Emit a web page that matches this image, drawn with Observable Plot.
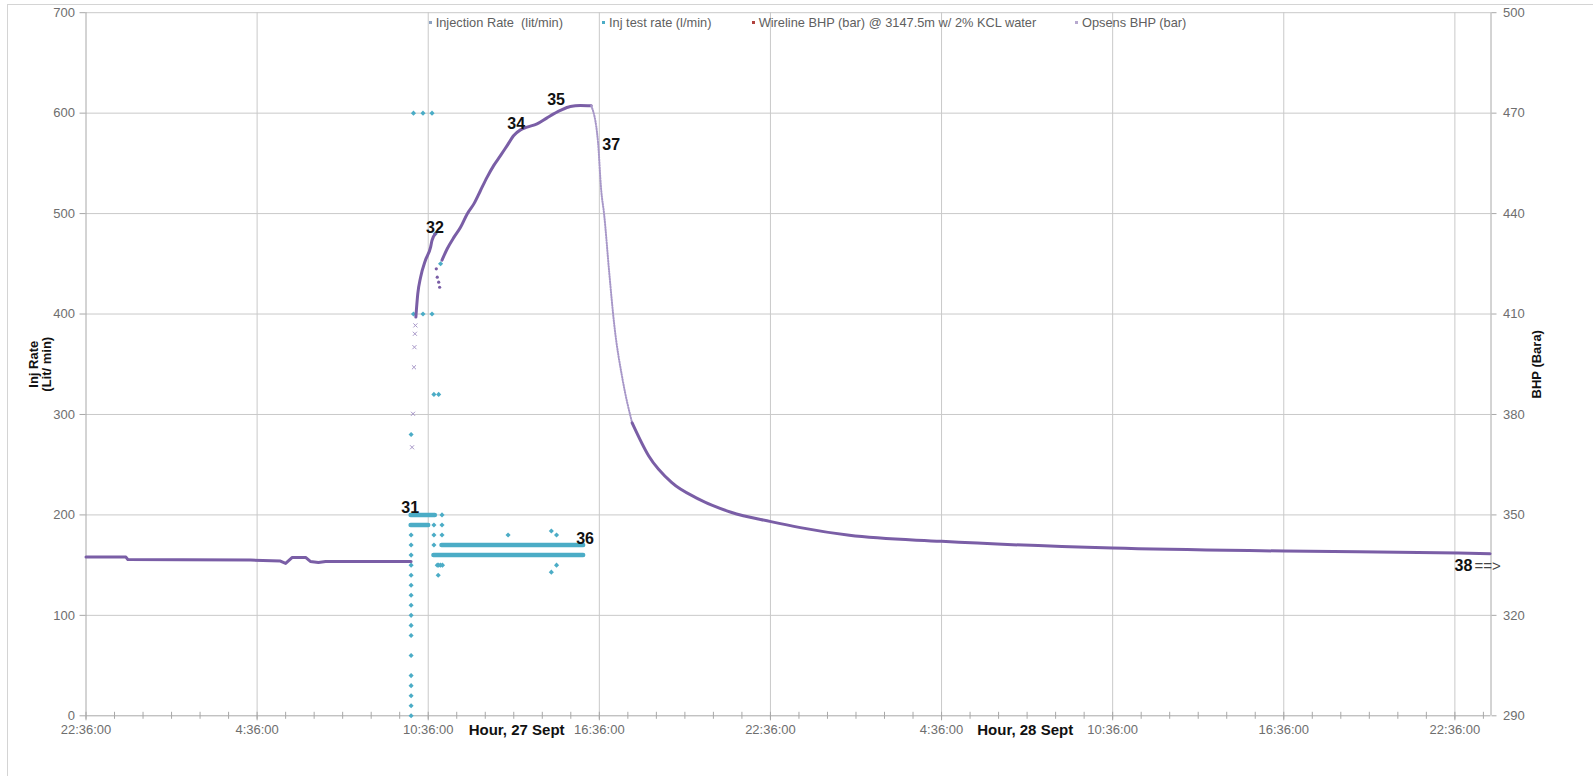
<!DOCTYPE html>
<html>
<head>
<meta charset="utf-8">
<script src="https://cdn.jsdelivr.net/npm/d3@7"></script>
<script src="https://cdn.jsdelivr.net/npm/@observablehq/plot@0.6"></script>
<style>
  html, body { margin: 0; padding: 0; background: #fff; }
  #chart { position: relative; width: 1593px; height: 776px; overflow: hidden; font-family: "Liberation Sans", Arial, sans-serif; }
  #chart svg { position: absolute; left: 0; top: 0; overflow: visible; }
  .border { position: absolute; left: 7px; top: 4px; width: 1620px; height: 820px; border: 1px solid #d4d4d4; box-sizing: border-box; }
  .legend { position: absolute; top: 0; left: 0; font-size: 12.8px; color: #606060; }
  .legend .item { position: absolute; white-space: pre; display: flex; align-items: center; height: 15px; }
  .legend .key { display: inline-block; width: 3px; height: 3px; margin-right: 4px; }
</style>
</head>
<body>
<div id="chart"><div class="border"></div></div>
<script>
// ---- Time axis (day of September + clock time) ----
const tickLabels = ["22:36:00", "4:36:00", "10:36:00", "16:36:00", "22:36:00", "4:36:00", "10:36:00", "16:36:00", "22:36:00"];
const axisStart = "26 22:36";
const axisEnd = "28 23:52";
const dayTitles = [["27 13:42", "Hour, 27 Sept"], ["28 07:32", "Hour, 28 Sept"]];

// ---- Opsens BHP (bar) ----
// before injection
const bhpBefore = [
  ["26 22:36", 337.4], ["27 00:00", 337.4], ["27 00:04", 336.7], ["27 02:00", 336.6],
  ["27 04:22", 336.5], ["27 05:25", 336.2], ["27 05:36", 335.5], ["27 05:50", 337.3],
  ["27 06:18", 337.3], ["27 06:28", 336.1], ["27 06:45", 335.8], ["27 07:00", 336.1],
  ["27 10:00", 336.1]
];
// fast pressure build-up, sparse readings
const bhpRamp = [
  ["27 10:02", 370.2], ["27 10:04", 380.2], ["27 10:06", 394.1], ["27 10:07", 400.1],
  ["27 10:08", 404.1], ["27 10:09", 406.6]
];
// first injection step, up to event 32
const bhpStep1 = [
  ["27 10:10", 409.1], ["27 10:14", 416.0], ["27 10:20", 421.0], ["27 10:30", 426.0],
  ["27 10:41", 430.0], ["27 10:44", 432.0], ["27 10:51", 434.0]
];
// short pressure drop after event 32
const bhpDip = [
  ["27 10:53", 423.5], ["27 10:55", 421.0], ["27 10:58", 419.5], ["27 11:00", 418.0]
];
// main injection period
const bhpStep2 = [
  ["27 11:05", 426.1], ["27 11:16", 429.5], ["27 11:30", 432.9], ["27 11:44", 435.9],
  ["27 11:58", 439.9], ["27 12:12", 442.9], ["27 12:26", 446.9], ["27 12:40", 450.9],
  ["27 12:54", 454.4], ["27 13:08", 457.3], ["27 13:22", 460.3], ["27 13:36", 463.3],
  ["27 13:50", 465.0], ["27 14:04", 465.8], ["27 14:25", 466.8], ["27 14:46", 468.6],
  ["27 15:14", 470.8], ["27 15:35", 472.0], ["27 15:56", 472.3], ["27 16:19", 472.2]
];
// shut-in fall-off
const bhpFalloff = [
  ["27 16:19", 472.2], ["27 16:33", 461.7], ["27 16:40", 446.9], ["27 16:46", 439.9],
  ["27 16:57", 422.1], ["27 17:07", 407.3], ["27 17:25", 390.4], ["27 17:45", 377.5],
  ["27 18:20", 367.6], ["27 19:08", 359.7], ["27 20:04", 354.8], ["27 21:13", 350.8],
  ["27 22:37", 348.0], ["27 23:39", 346.2], ["28 01:22", 343.9], ["28 04:36", 342.1],
  ["28 10:36", 340.1], ["28 16:37", 339.2], ["28 22:43", 338.6], ["28 23:50", 338.4]
];
const falloffSolidFrom = "27 17:45";

// ---- Inj test rate (l/min) ----
const testRatePoints = [
  ["27 10:00", 0], ["27 10:00", 10], ["27 10:00", 20], ["27 10:00", 30], ["27 10:00", 40],
  ["27 10:00", 60], ["27 10:00", 80], ["27 10:00", 90], ["27 10:00", 100], ["27 10:00", 110],
  ["27 10:00", 120], ["27 10:00", 130], ["27 10:00", 140], ["27 10:00", 150], ["27 10:00", 160],
  ["27 10:00", 170], ["27 10:00", 180], ["27 10:00", 280],
  ["27 10:05", 400], ["27 10:25", 400], ["27 10:44", 400],
  ["27 10:05", 600], ["27 10:25", 600], ["27 10:44", 600],
  ["27 10:48", 320], ["27 10:58", 320], ["27 10:51", 480], ["27 11:02", 450],
  ["27 10:48", 190], ["27 11:05", 190], ["27 11:05", 200],
  ["27 10:48", 180], ["27 11:05", 180], ["27 13:24", 180], ["27 14:55", 184], ["27 15:06", 180],
  ["27 10:48", 170],
  ["27 10:55", 150], ["27 10:58", 150], ["27 11:02", 150], ["27 11:06", 150], ["27 15:06", 150],
  ["27 10:57", 140], ["27 14:55", 143]
];
// steady logging at a constant rate: [from, to, rate]
const testRateRuns = [
  ["27 10:00", "27 10:51", 200],
  ["27 10:00", "27 10:37", 190],
  ["27 11:05", "27 16:03", 170],
  ["27 10:48", "27 16:03", 160]
];

// ---- event numbers ----
const events = [
  ["27 09:58", 207, "31"], ["27 10:50", 486, "32"], ["27 13:41", 589, "34"],
  ["27 15:05", 613, "35"], ["27 16:06", 176, "36"], ["27 17:01", 568, "37"]
];
const lastEvent = ["28 22:54", 149, "38"];

// ---- legend ----
const legendLabels = ["Injection Rate  (lit/min)", "Inj test rate (l/min)", "Wireline BHP (bar) @ 3147.5m w/ 2% KCL water", "Opsens BHP (bar)"];
const legendColors = ["#8ea3c2", "#4bacc6", "#b0413e", "#b7a9cf"];
const legendLeft = [428.7, 602, 751.7, 1075];

// ---- axes ----
const rateTicks = [0, 100, 200, 300, 400, 500, 600, 700];
const bhpMin = 290, bhpMax = 500;

const parseTime = d3.utcParse("%d %H:%M");
const xStart = parseTime(axisStart), xEnd = parseTime(axisEnd);
const majorTicks = tickLabels.map((_, i) => d3.utcHour.offset(xStart, 6 * i));
const minorTicks = d3.range(0, 60).map(i => d3.utcHour.offset(xStart, i)).filter(d => d <= xEnd);
const barPerRate = (bhpMax - bhpMin) / 700;
const toRate = bar => (bar - bhpMin) / barPerRate;
const pts = arr => arr.map(([t, bar]) => ({t: parseTime(t), r: toRate(bar)}));

const falloff = pts(bhpFalloff);
const solidFrom = parseTime(falloffSolidFrom);
const tests = testRatePoints.map(([t, r]) => ({t: parseTime(t), r}));
const runs = testRateRuns.map(([a, b, r]) => ({a: parseTime(a), b: parseTime(b), r}));
const eventData = events.map(([t, r, s]) => ({t: parseTime(t), r, s}));

const purple = "#7a5ea6";
const purpleLight = "#a797c8";
const teal = "#4bacc6";
const grid = "#c9c9c9";
const axisColor = "#a8a8a8";
const titleFont = "'Liberation Sans', Arial, sans-serif";

const chart = Plot.plot({
  width: 1593,
  height: 776,
  marginLeft: 85.5,
  marginRight: 102.5,
  marginTop: 12.2,
  marginBottom: 60.7,
  style: {fontFamily: "'Liberation Sans', Arial, sans-serif", fontSize: "13px", color: "#6e6e6e", background: "transparent", overflow: "visible"},
  x: {type: "utc", domain: [xStart, xEnd]},
  y: {domain: [0, 700]},
  marks: [
    Plot.gridY(rateTicks.slice(1), {stroke: grid, strokeOpacity: 1}),
    Plot.gridX(majorTicks.slice(1), {stroke: grid, strokeOpacity: 1}),
    Plot.ruleX([xStart, xEnd], {stroke: axisColor}),
    Plot.ruleY([0], {stroke: axisColor}),

    // inj test rate
    Plot.ruleY(runs, {y: "r", x1: "a", x2: "b", stroke: teal, strokeWidth: 4.5, strokeLinecap: "round"}),
    Plot.dot(tests, {x: "t", y: "r", r: 2.3, fill: teal, stroke: "none", symbol: "diamond2"}),

    // BHP
    Plot.line(pts(bhpBefore), {x: "t", y: "r", stroke: purple, strokeWidth: 3}),
    Plot.dot(pts(bhpRamp), {x: "t", y: "r", symbol: "times", r: 2, stroke: purpleLight, strokeWidth: 1}),
    Plot.line(pts(bhpStep1), {x: "t", y: "r", stroke: purple, strokeWidth: 3, curve: "monotone-x"}),
    Plot.dot(pts(bhpDip), {x: "t", y: "r", r: 1.6, fill: purple, stroke: "none"}),
    Plot.line(pts(bhpStep2), {x: "t", y: "r", stroke: purple, strokeWidth: 3, curve: "monotone-x"}),
    Plot.line(falloff.filter(d => d.t <= solidFrom), {x: "t", y: "r", stroke: purpleLight, strokeWidth: 2, strokeDasharray: "1,1.6", curve: "monotone-x"}),
    Plot.line(falloff.filter(d => d.t >= solidFrom), {x: "t", y: "r", stroke: purple, strokeWidth: 3, curve: "monotone-x"}),

    // event numbers
    Plot.text(eventData, {x: "t", y: "r", text: "s", fontWeight: "bold", fontSize: 16, fill: "#111"}),
    Plot.text([lastEvent], {x: d => parseTime(d[0]), y: d => d[1], text: d => d[2], fontWeight: "bold", fontSize: 16, fill: "#111"}),
    Plot.text([lastEvent], {x: d => parseTime(d[0]), y: d => d[1], text: () => "==>", dx: 11, textAnchor: "start", fontSize: 15, fill: "#444"}),

    // axes
    Plot.axisY({ticks: rateTicks, anchor: "left", tickSize: 6, tickPadding: 5, label: null, stroke: axisColor}),
    Plot.axisY({ticks: rateTicks, anchor: "right", tickSize: 5, tickPadding: 7, label: null, stroke: axisColor,
      tickFormat: d => String(Math.round(bhpMin + d * barPerRate))}),
    Plot.axisX({ticks: majorTicks, anchor: "bottom", tickSize: 5, tickPadding: 4, label: null, stroke: axisColor,
      tickFormat: d => tickLabels[majorTicks.findIndex(m => +m === +d)]}),
    Plot.axisX({ticks: minorTicks, anchor: "bottom", tickSize: 7, dy: -3.5, text: null, label: null, stroke: axisColor}),

    // axis titles
    Plot.text(["Inj Rate\n(Lit/ min)"], {frameAnchor: "left", textAnchor: "middle", lineAnchor: "middle", rotate: -90, dx: -45.5, fontWeight: "bold", fontSize: 13, lineHeight: 1.02, fill: "#111", fontFamily: titleFont}),
    Plot.text(["BHP (Bara)"], {frameAnchor: "right", textAnchor: "middle", lineAnchor: "middle", rotate: -90, dx: 45.5, fontWeight: "bold", fontSize: 13, fill: "#111", fontFamily: titleFont}),
    Plot.text(dayTitles, {x: d => parseTime(d[0]), text: d => d[1], frameAnchor: "bottom", lineAnchor: "middle", dy: 14.2, fontWeight: "bold", fontSize: 15, fill: "#111", fontFamily: titleFont})
  ]
});

const root = document.getElementById("chart");
root.appendChild(chart);

const legend = document.createElement("div");
legend.className = "legend";
legendLabels.forEach((label, i) => {
  const item = document.createElement("div");
  item.className = "item";
  item.style.left = legendLeft[i] + "px";
  item.style.top = "15px";
  const key = document.createElement("span");
  key.className = "key";
  key.style.background = legendColors[i];
  item.appendChild(key);
  item.appendChild(document.createTextNode(label));
  legend.appendChild(item);
});
root.appendChild(legend);
</script>
</body>
</html>
